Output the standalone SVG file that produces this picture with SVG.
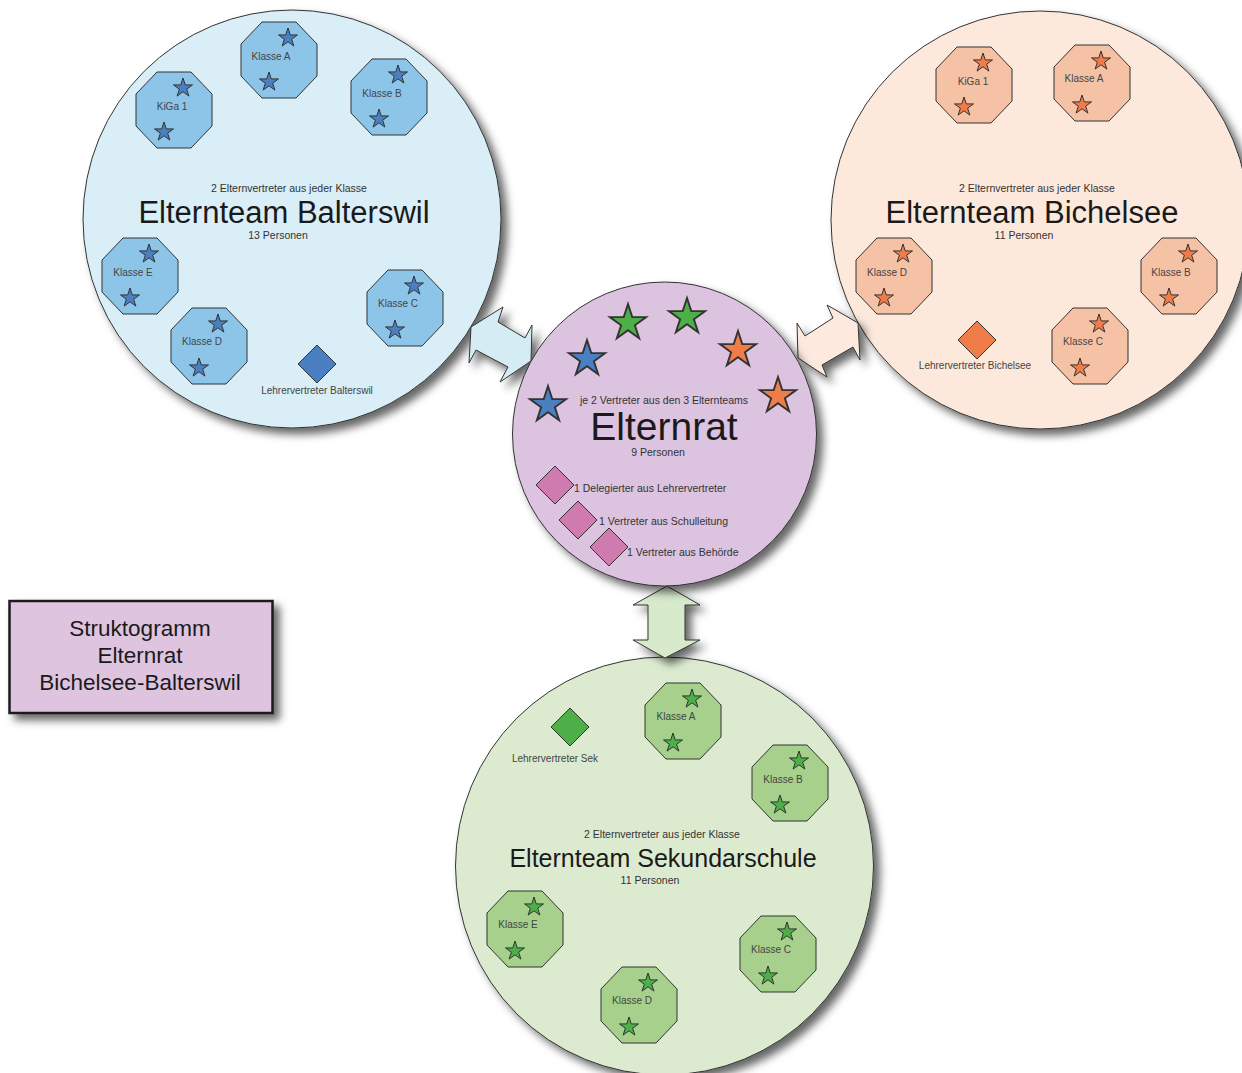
<svg xmlns="http://www.w3.org/2000/svg" xmlns:xlink="http://www.w3.org/1999/xlink" width="1242" height="1073" viewBox="0 0 1242 1073">
<style>
text{font-family:"Liberation Sans",Arial,sans-serif;fill:#333}
.sm{font-size:10.5px;text-anchor:middle}
.lb{font-size:10px;text-anchor:middle;fill:#444}
.ttl{font-size:31px;text-anchor:middle;fill:#1a1a1a}
.ln{stroke:#333;stroke-width:1}
.blue .oc{fill:#8dc5e8}
.blue .st{fill:#4a7fc1}
.org .oc{fill:#f6c2a6}
.org .st{fill:#f07c4a}
.grn .oc{fill:#a7d08c}
.grn .st{fill:#4caf47}
.oc,.st,.dm{stroke:#333;stroke-width:1}
</style>
<defs>
<filter id="sh" x="-20%" y="-20%" width="150%" height="150%">
<feDropShadow dx="6" dy="6" stdDeviation="4" flood-color="#000" flood-opacity="0.6"/>
</filter>
<polygon id="oct" points="-17,-38 17,-38 38,-16 38,16 17,38 -17,38 -38,16 -38,-16"/>
<path id="star" d="M0,-10 L2.25,-3.09 L9.51,-3.09 L3.63,1.18 L5.88,8.09 L0,3.82 L-5.88,8.09 L-3.63,1.18 L-9.51,-3.09 L-2.25,-3.09 Z"/>
<polygon id="dia" points="0,-19 19,0 0,19 -19,0"/>
</defs>

<rect width="1242" height="1073" fill="#fff"/>

<!-- Elternteam Balterswil -->
<g id="team-balterswil" class="blue">
<circle cx="292" cy="219" r="209" fill="#d9eef7" class="ln" filter="url(#sh)"/>
<text class="sm" x="289" y="192">2 Elternvertreter aus jeder Klasse</text>
<text class="ttl" x="284" y="223">Elternteam Balterswil</text>
<text class="sm" x="278" y="239">13 Personen</text>
<g id="b-kiga1" transform="translate(174,110)"><use href="#oct" class="oc"/><text class="lb" x="-2" y="0">KiGa 1</text><use href="#star" class="st" x="9" y="-22"/><use href="#star" class="st" x="-10" y="22"/></g>
<g id="b-klasseA" transform="translate(279,60)"><use href="#oct" class="oc"/><text class="lb" x="-8" y="0">Klasse A</text><use href="#star" class="st" x="9" y="-22"/><use href="#star" class="st" x="-10" y="22"/></g>
<g id="b-klasseB" transform="translate(389,97)"><use href="#oct" class="oc"/><text class="lb" x="-7" y="0">Klasse B</text><use href="#star" class="st" x="9" y="-22"/><use href="#star" class="st" x="-10" y="22"/></g>
<g id="b-klasseE" transform="translate(140,276)"><use href="#oct" class="oc"/><text class="lb" x="-7" y="0">Klasse E</text><use href="#star" class="st" x="9" y="-22"/><use href="#star" class="st" x="-10" y="22"/></g>
<g id="b-klasseD" transform="translate(209,346)"><use href="#oct" class="oc"/><text class="lb" x="-7" y="-1">Klasse D</text><use href="#star" class="st" x="9" y="-22"/><use href="#star" class="st" x="-10" y="22"/></g>
<g id="b-klasseC" transform="translate(405,308)"><use href="#oct" class="oc"/><text class="lb" x="-7" y="-1">Klasse C</text><use href="#star" class="st" x="9" y="-22"/><use href="#star" class="st" x="-10" y="22"/></g>
<g id="b-lehrer"><use href="#dia" class="dm" x="317" y="364" fill="#4a7fc1"/><text class="lb" x="317" y="394">Lehrervertreter Balterswil</text></g>
</g>

<!-- Elternteam Bichelsee -->
<g id="team-bichelsee" class="org">
<circle cx="1040" cy="220" r="209" fill="#fde9dc" class="ln" filter="url(#sh)"/>
<text class="sm" x="1037" y="192">2 Elternvertreter aus jeder Klasse</text>
<text class="ttl" x="1032" y="223">Elternteam Bichelsee</text>
<text class="sm" x="1024" y="239">11 Personen</text>
<g id="s-kiga1" transform="translate(974,85)"><use href="#oct" class="oc"/><text class="lb" x="-1" y="0">KiGa 1</text><use href="#star" class="st" x="9" y="-22"/><use href="#star" class="st" x="-10" y="22"/></g>
<g id="s-klasseA" transform="translate(1092,83)"><use href="#oct" class="oc"/><text class="lb" x="-8" y="-1">Klasse A</text><use href="#star" class="st" x="9" y="-22"/><use href="#star" class="st" x="-10" y="22"/></g>
<g id="s-klasseD" transform="translate(894,276)"><use href="#oct" class="oc"/><text class="lb" x="-7" y="0">Klasse D</text><use href="#star" class="st" x="9" y="-22"/><use href="#star" class="st" x="-10" y="22"/></g>
<g id="s-klasseB" transform="translate(1179,276)"><use href="#oct" class="oc"/><text class="lb" x="-8" y="0">Klasse B</text><use href="#star" class="st" x="9" y="-22"/><use href="#star" class="st" x="-10" y="22"/></g>
<g id="s-klasseC" transform="translate(1090,346)"><use href="#oct" class="oc"/><text class="lb" x="-7" y="-1">Klasse C</text><use href="#star" class="st" x="9" y="-22"/><use href="#star" class="st" x="-10" y="22"/></g>
<g id="s-lehrer"><use href="#dia" class="dm" x="977" y="340" fill="#f07c4a"/><text class="lb" x="975" y="369">Lehrervertreter Bichelsee</text></g>
</g>

<!-- Elternteam Sekundarschule -->
<g id="team-sek" class="grn">
<circle cx="664.5" cy="866" r="209" fill="#dcebd0" class="ln" filter="url(#sh)"/>
<text class="sm" x="662" y="838">2 Elternvertreter aus jeder Klasse</text>
<text class="ttl" x="663" y="867" style="font-size:25px">Elternteam Sekundarschule</text>
<text class="sm" x="650" y="884">11 Personen</text>
<g id="k-klasseA" transform="translate(683,721)"><use href="#oct" class="oc"/><text class="lb" x="-7" y="-1">Klasse A</text><use href="#star" class="st" x="9" y="-22"/><use href="#star" class="st" x="-10" y="22"/></g>
<g id="k-klasseB" transform="translate(790,783)"><use href="#oct" class="oc"/><text class="lb" x="-7" y="0">Klasse B</text><use href="#star" class="st" x="9" y="-22"/><use href="#star" class="st" x="-10" y="22"/></g>
<g id="k-klasseE" transform="translate(525,929)"><use href="#oct" class="oc"/><text class="lb" x="-7" y="-1">Klasse E</text><use href="#star" class="st" x="9" y="-22"/><use href="#star" class="st" x="-10" y="22"/></g>
<g id="k-klasseD" transform="translate(639,1005)"><use href="#oct" class="oc"/><text class="lb" x="-7" y="-1">Klasse D</text><use href="#star" class="st" x="9" y="-22"/><use href="#star" class="st" x="-10" y="22"/></g>
<g id="k-klasseC" transform="translate(778,954)"><use href="#oct" class="oc"/><text class="lb" x="-7" y="-1">Klasse C</text><use href="#star" class="st" x="9" y="-22"/><use href="#star" class="st" x="-10" y="22"/></g>
<g id="k-lehrer"><use href="#dia" class="dm" x="570" y="727" fill="#4caf47"/><text class="lb" x="555" y="762">Lehrervertreter Sek</text></g>
</g>

<!-- connectors -->
<g id="connectors" class="ln" filter="url(#sh)">
<polygon points="471,327 503,307 498,322 525,338 532,325 531,361 500,382 508,367 476,350 469,363" fill="#d6ecf5"/>
<polygon points="797,323 805,336 833,318 827,305 858,323 860,360 853,347 822,365 827,377 798,358" fill="#fde9de"/>
<polygon points="667,586 700,605 685,605 685,640 700,640 665,658 633,640 648,640 648,605 633,605" fill="#d7eacb"/>
</g>

<!-- Elternrat -->
<g id="elternrat">
<circle cx="664.5" cy="434" r="152" fill="#dcc3df" class="ln" filter="url(#sh)"/>
<g class="blue"><use href="#star" class="st" transform="translate(548,405) scale(1.9)"/><use href="#star" class="st" transform="translate(587,359) scale(1.9)"/></g>
<g class="grn"><use href="#star" class="st" transform="translate(628,323) scale(1.9)"/><use href="#star" class="st" transform="translate(687,317) scale(1.9)"/></g>
<g class="org"><use href="#star" class="st" transform="translate(738,350) scale(1.9)"/><use href="#star" class="st" transform="translate(778,396) scale(1.9)"/></g>
<text class="sm" x="664" y="404">je 2 Vertreter aus den 3 Elternteams</text>
<text x="664" y="440" style="font-size:39px;text-anchor:middle;fill:#1a1a1a">Elternrat</text>
<text class="sm" x="658" y="456">9 Personen</text>
<use href="#dia" class="dm" x="555" y="485" fill="#d07bb0"/>
<use href="#dia" class="dm" x="578" y="520" fill="#d07bb0"/>
<use href="#dia" class="dm" x="609" y="547" fill="#d07bb0"/>
<text x="574" y="492" style="font-size:10.5px">1 Delegierter aus Lehrervertreter</text>
<text x="599" y="525" style="font-size:10.5px">1 Vertreter aus Schulleitung</text>
<text x="627" y="556" style="font-size:10.5px">1 Vertreter aus Behörde</text>
</g>

<!-- Legend -->
<g id="legend">
<rect x="9.5" y="601" width="263" height="112" fill="#dfc4e0" stroke="#1a1a1a" stroke-width="2.5" filter="url(#sh)"/>
<text x="140" y="636" style="font-size:22.5px;text-anchor:middle;fill:#1a1a1a">Struktogramm</text>
<text x="140" y="663" style="font-size:22.5px;text-anchor:middle;fill:#1a1a1a">Elternrat</text>
<text x="140" y="690" style="font-size:22.5px;text-anchor:middle;fill:#1a1a1a">Bichelsee-Balterswil</text>
</g>
</svg>
